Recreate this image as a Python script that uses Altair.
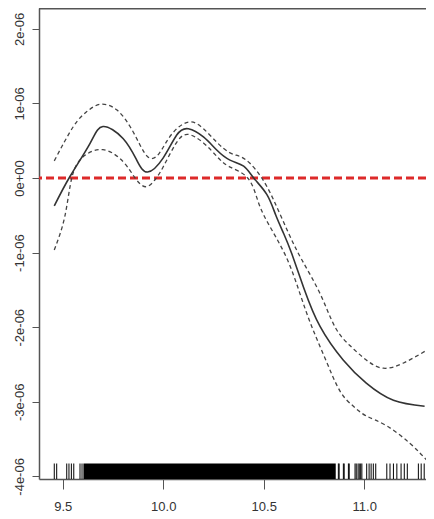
import altair as alt
import pandas as pd

# ---- data (y in units of 1e-06) ----
fit_x = [9.458, 9.536, 9.636, 9.70, 9.80, 9.868, 9.922, 10.0, 10.067, 10.125, 10.2,
         10.266, 10.332, 10.40, 10.45, 10.515, 10.56, 10.60, 10.64, 10.70, 10.78,
         10.895, 11.01, 11.145, 11.30]
fit_y = [-0.375, 0.02, 0.465, 0.69, 0.53, 0.24, 0.08, 0.27, 0.576, 0.66, 0.55,
         0.375, 0.24, 0.16, 0.0, -0.22, -0.50, -0.75, -1.02, -1.48, -1.99,
         -2.44, -2.75, -2.98, -3.06]

upper_x = [9.458, 9.553, 9.62, 9.69, 9.77, 9.835, 9.885, 9.93, 9.98, 10.04, 10.125,
           10.2, 10.27, 10.33, 10.38, 10.43, 10.49, 10.55, 10.62, 10.69, 10.78,
           10.855, 10.93, 11.01, 11.095, 11.195, 11.31]
upper_y = [0.23, 0.69, 0.89, 0.99, 0.91, 0.69, 0.44, 0.27, 0.33, 0.58, 0.75,
           0.66, 0.47, 0.34, 0.29, 0.20, 0.0, -0.30, -0.72, -1.10, -1.55,
           -2.0, -2.25, -2.44, -2.55, -2.48, -2.31]

lower_x = [9.458, 9.51, 9.545, 9.60, 9.70, 9.80, 9.86, 9.913, 9.96, 10.0, 10.06,
           10.12, 10.2, 10.27, 10.33, 10.42, 10.47, 10.52, 10.61, 10.68, 10.74,
           10.81, 10.88, 10.946, 11.01, 11.11, 11.228, 11.31]
lower_y = [-0.965, -0.52, 0.0, 0.28, 0.38, 0.22, 0.0, -0.117, -0.02, 0.15, 0.45,
           0.585, 0.47, 0.28, 0.15, 0.0, -0.3, -0.6, -1.05, -1.55, -2.0,
           -2.45, -2.86, -3.06, -3.19, -3.32, -3.56, -3.78]

rug_x = [9.458, 9.470, 9.520, 9.531, 9.543, 9.555, 9.586, 9.596,
         10.871, 10.875, 10.896, 10.900, 10.921, 10.925, 10.954, 10.960, 10.969,
         10.975, 10.982, 10.988, 11.012, 11.024, 11.034, 11.045, 11.057,
         11.112, 11.128, 11.145, 11.162, 11.183, 11.199, 11.214,
         11.269, 11.283, 11.298]
rug_block_start = [9.603]
rug_block_end = [10.858]

x_ticks = [9.5, 10.0, 10.5, 11.0]
y_ticks = [-4, -3, -2, -1, 0, 1, 2]
y_tick_labels = ["-4e-06", "-3e-06", "-2e-06", "-1e-06", "0e+00", "1e-06", "2e-06"]
ref_y = [0]

X_DOMAIN = [9.382, 11.307]
Y_DOMAIN = [-4.035, 2.279]
W, H = 387, 471

fit_df = pd.DataFrame({"x": fit_x, "y": fit_y})
up_df = pd.DataFrame({"x": upper_x, "y": upper_y})
lo_df = pd.DataFrame({"x": lower_x, "y": lower_y})
rug_df = pd.DataFrame({"x": rug_x})
block_df = pd.DataFrame({"x": rug_block_start, "x2": rug_block_end})
ref_df = pd.DataFrame({"y": ref_y})

label_expr = ("[" + ",".join(f"'{s}'" for s in y_tick_labels) + "][indexof(["
              + ",".join(str(v) for v in y_ticks) + "], datum.value)]")

xs = alt.Scale(domain=X_DOMAIN, nice=False, zero=False)
ys = alt.Scale(domain=Y_DOMAIN, nice=False, zero=False)

x_axis = alt.Axis(values=x_ticks, format=".1f", title=None, grid=False,
                  tickSize=10, labelPadding=11, domainColor="#555", tickColor="#555",
                  domainWidth=1.5, labelFontSize=13, labelColor="#333",
                  labelFont="Liberation Sans", labelFlush=False)
y_axis = alt.Axis(values=y_ticks, labelExpr=label_expr, title=None, grid=False,
                  tickSize=7, labelPadding=6, labelAngle=270, labelAlign="center",
                  labelBaseline="bottom", domainColor="#555", tickColor="#555",
                  domainWidth=1.5, labelFontSize=13, labelColor="#333",
                  labelFont="Liberation Sans")

fit = alt.Chart(fit_df).mark_line(color="#333", strokeWidth=1.6, interpolate="natural",
                                  clip=True).encode(
    x=alt.X("x:Q", scale=xs, axis=x_axis),
    y=alt.Y("y:Q", scale=ys, axis=y_axis),
)
up = alt.Chart(up_df).mark_line(color="#444", strokeWidth=1.3, strokeDash=[4, 3],
                                interpolate="natural", clip=True).encode(x="x:Q", y="y:Q")
lo = alt.Chart(lo_df).mark_line(color="#444", strokeWidth=1.3, strokeDash=[4, 3],
                                interpolate="natural", clip=True).encode(x="x:Q", y="y:Q")
ref = alt.Chart(ref_df).mark_rule(color="#dd2a2a", strokeWidth=3, strokeDash=[8, 4]).encode(
    y="y:Q")
rug = alt.Chart(rug_df).mark_rule(color="black", strokeWidth=1).encode(
    x="x:Q", y=alt.value(H - 15.5), y2=alt.value(H))
block = alt.Chart(block_df).mark_rect(color="black").encode(
    x="x:Q", x2="x2:Q", y=alt.value(H - 15.5), y2=alt.value(H))
top_line = alt.Chart(ref_df).mark_rule(color="#555", strokeWidth=1.5).encode(
    x=alt.value(0), x2=alt.value(W), y=alt.value(0.75))

chart = alt.layer(ref, block, rug, lo, up, fit, top_line).properties(
    width=W, height=H,
    autosize=alt.AutoSizeParams(type="none"),
    padding={"left": 31, "top": 0, "right": 0, "bottom": 37},
    background="white",
).configure_view(stroke=None)

chart.save("out.html", embed_options={"renderer": "svg", "actions": False})
